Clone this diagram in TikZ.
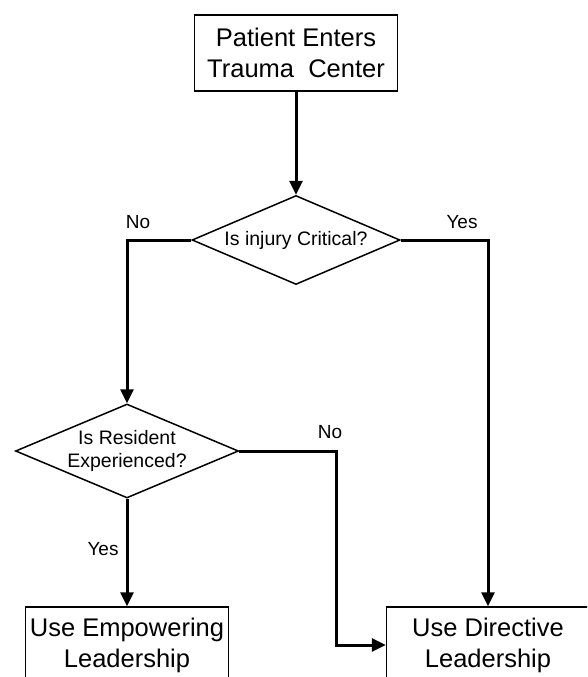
\documentclass[tikz,border=0pt]{standalone}
\usepackage{fontspec}
\setmainfont{Liberation Sans}
\usetikzlibrary{shapes.geometric,arrows.meta}
\begin{document}
\begin{tikzpicture}[x=1pt,y=-1pt,
  box/.style={draw, line width=1.5pt, rectangle, minimum width=203pt, minimum height=76pt, inner sep=0pt, font=\fontsize{25.5}{31}\selectfont, align=center},
  dec/.style={draw, line width=1.5pt, diamond, inner sep=0pt},
  dtext/.style={font=\fontsize{19.5}{23}\selectfont, align=center, inner sep=0pt},
  lbl/.style={font=\fontsize{19}{23}\selectfont, inner sep=0pt},
  conn/.style={line width=3pt, -{Triangle[length=14pt,width=13pt]}}]
\useasboundingbox (0,0) rectangle (587,677);
\clip (0,0) rectangle (587,677);

\node[box] (start) at (296,53) {Patient Enters\\Trauma\ \ Center};
\node[dec, minimum width=208pt, minimum height=89pt] (d1) at (296,240) {};
\node[dtext] (d1t) at (296,240) {Is injury Critical?};
\node[dec, minimum width=223pt, minimum height=94pt] (d2) at (127,451) {};
\node[dtext] (d2t) at (127,451) {Is Resident\\Experienced?};
\node[box] (emp) at (127,645) {Use Empowering\\Leadership};
\node[box] (dir) at (488,645) {Use Directive\\Leadership};

\coordinate (c2) at (336,451);

\draw[conn] (start.south) -- (d1.north);
\draw[conn] (d1.west) -| (d2.north);
\draw[conn] (d1.east) -| (dir.north);
\draw[conn] (d2.east) -- (c2) |- (dir.west);
\draw[conn] (d2.south) -- (emp.north);

\node[lbl] (no1) at (138,222) {No};
\node[lbl] (yes1) at (462,222) {Yes};
\node[lbl] (no2) at (330,432) {No};
\node[lbl] (yes2) at (103,549) {Yes};
\end{tikzpicture}
\end{document}
